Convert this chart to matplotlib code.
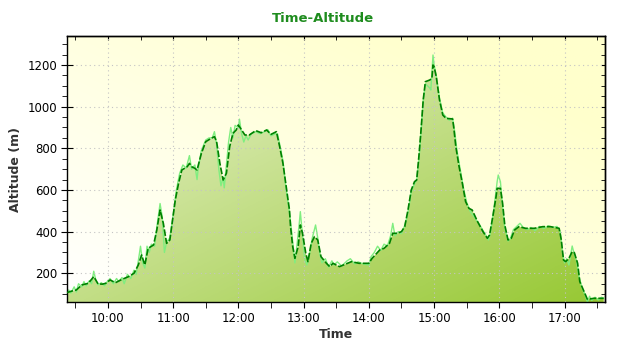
import numpy as np
import matplotlib
matplotlib.use("Agg")
import matplotlib.pyplot as plt
from matplotlib.ticker import MultipleLocator, FuncFormatter, NullFormatter
from matplotlib.colors import to_rgb

# ---- data ----
smooth_times = ["09:22","09:27","09:31","09:36","09:42","09:47","09:51","09:55","09:58","10:02",
    "10:07","10:13","10:19","10:24","10:28","10:31","10:34","10:37","10:42","10:45","10:48","10:51",
    "10:54","10:57","11:02","11:05","11:08","11:13","11:15","11:17","11:20","11:22","11:26","11:30",
    "11:35","11:38","11:40","11:43","11:46","11:49","11:52","11:55","11:58","12:00","12:03","12:06",
    "12:10","12:16","12:21","12:26","12:30","12:35","12:38","12:41","12:44","12:47","12:48","12:50",
    "12:52","12:55","12:57","12:59","13:02","13:04","13:07","13:10","13:13","13:16","13:21","13:24",
    "13:27","13:33","13:44","13:51","14:00","14:03","14:10","14:14","14:19","14:22","14:26","14:30",
    "14:33","14:36","14:39","14:42","14:44","14:46","14:48","14:50","14:52","14:56","14:58","14:59",
    "15:00","15:02","15:05","15:08","15:11","15:17","15:18","15:20","15:23","15:26","15:29","15:32",
    "15:35","15:40","15:45","15:49","15:51","15:54","15:57","15:58","16:01","16:03","16:05","16:08",
    "16:11","16:14","16:18","16:24","16:32","16:40","16:47","16:55","16:57","16:59","17:01","17:04",
    "17:07","17:09","17:12","17:14","17:18","17:21","17:27","17:36"]
smooth_alt = [107,115,120,144,152,184,149,148,152,168,
    155,171,184,200,240,288,240,320,336,408,504,440,
    344,360,552,632,696,712,728,712,704,696,776,832,
    848,856,832,728,648,680,808,872,888,912,888,864,
    864,885,875,888,867,880,808,728,616,504,424,328,
    272,328,432,392,296,256,344,376,360,280,248,232,
    248,232,256,248,248,272,312,320,344,392,392,400,
    424,504,600,640,648,760,888,1032,1120,1128,1136,1200,
    1192,1144,1032,960,944,941,904,808,712,632,544,512,
    504,448,400,368,384,472,568,608,608,536,432,360,
    368,408,424,416,416,424,424,416,360,264,256,272,
    304,299,248,160,112,75,80,80]

raw_times = ["09:22","09:24","09:26","09:29","09:31","09:33","09:36","09:38","09:40","09:43",
    "09:45","09:47","09:49","09:51","09:54","09:57","10:00","10:02","10:05","10:08","10:10","10:13",
    "10:15","10:18","10:21","10:24","10:26","10:28","10:30","10:32","10:34","10:36","10:38","10:40",
    "10:43","10:45","10:48","10:50","10:52","10:54","10:57","11:00","11:03","11:06","11:09","11:12",
    "11:15","11:17","11:20","11:22","11:23","11:26","11:30","11:33","11:36","11:38","11:40","11:42",
    "11:44","11:46","11:47","11:49","11:51","11:53","11:55","11:57","12:00","12:01","12:03","12:05",
    "12:07","12:09","12:12","12:16","12:20","12:24","12:27","12:30","12:34","12:36","12:38","12:41",
    "12:44","12:47","12:49","12:51","12:52","12:54","12:56","12:57","12:59","13:01","13:03","13:05",
    "13:08","13:11","13:13","13:15","13:17","13:20","13:23","13:26","13:28","13:31","13:35","13:40",
    "13:43","13:47","13:50","13:55","14:00","14:02","14:05","14:08","14:11","14:14","14:17","14:20",
    "14:22","14:24","14:27","14:30","14:33","14:36","14:39","14:42","14:44","14:46","14:48","14:50",
    "14:52","14:54","14:56","14:57","14:59","15:00","15:02","15:05","15:08","15:11","15:14","15:17",
    "15:19","15:21","15:24","15:27","15:30","15:33","15:37","15:41","15:45","15:49","15:50","15:52",
    "15:55","15:58","15:59","16:01","16:03","16:05","16:08","16:10","16:13","16:17","16:19","16:22",
    "16:26","16:29","16:33","16:37","16:41","16:45","16:49","16:53","16:56","16:58","17:00","17:02",
    "17:04","17:06","17:07","17:09","17:11","17:13","17:16","17:19","17:21","17:23","17:25","17:28",
    "17:31","17:34","17:36"]
raw_alt = [95,120,105,135,110,150,135,160,140,165,
    150,210,165,145,155,140,165,175,150,175,160,180,
    150,195,175,215,195,260,330,250,225,330,300,340,
    330,420,535,470,300,350,370,480,600,680,720,705,
    765,700,720,650,700,790,840,850,850,880,820,700,
    620,660,610,720,830,900,850,910,900,940,870,830,
    860,840,870,880,870,880,890,860,870,870,820,740,
    600,490,400,300,250,340,440,496,380,270,240,280,
    370,432,370,290,250,270,230,260,240,255,235,260,
    270,245,255,245,240,280,300,330,310,340,330,380,
    440,380,400,390,430,490,590,630,650,740,880,1030,
    1110,1100,1090,1080,1248,1200,1150,1040,970,950,935,945,
    880,790,700,610,540,500,470,440,405,370,360,400,
    510,640,672,640,520,420,355,365,410,430,440,420,
    410,420,405,425,415,428,420,425,400,300,250,270,
    240,300,331,290,260,190,130,95,62,90,70,85,
    72,85,80]

x_range = ["09:22", "17:37"]
y_range = [62, 1339]


def to_hours(s):
    h, m = s.split(":")
    return int(h) + int(m) / 60.0


xs = np.array([to_hours(t) for t in smooth_times])
ys = np.array(smooth_alt, dtype=float)
xr = np.array([to_hours(t) for t in raw_times])
yr = np.array(raw_alt, dtype=float)

fig = plt.figure(figsize=(6.4, 3.5), dpi=100)
ax = fig.add_axes([0.104, 0.137, 0.841, 0.760])
x0, x1 = to_hours(x_range[0]), to_hours(x_range[1])
ax.set_xlim(x0, x1)
ax.set_ylim(*y_range)

# background gradient (white bottom-left -> light yellow top-right)
n = 200
gx, gy = np.meshgrid(np.linspace(0, 1, n), np.linspace(1, 0, n))
t = np.clip((gx * 0.6 + gy * 0.6), 0, 1)
c0 = np.array(to_rgb("#ffffff"))
c1 = np.array(to_rgb("#ffffcc"))
bg = c0[None, None, :] * (1 - t[..., None]) + c1[None, None, :] * t[..., None]
ax.imshow(bg, extent=[0, 1, 0, 1], transform=ax.transAxes, aspect="auto", zorder=0)

# fill gradient (light top-left -> strong green bottom-right)
s = np.clip((gx + (1 - gy)) / 2, 0, 1)
f0 = np.array(to_rgb("#f0f5dc"))
f1 = np.array(to_rgb("#96c832"))
fg = f0[None, None, :] * (1 - s[..., None]) + f1[None, None, :] * s[..., None]
poly = ax.fill_between(xs, y_range[0], ys, facecolor="none", edgecolor="none", zorder=1)
im = ax.imshow(fg, extent=[0, 1, 0, 1], transform=ax.transAxes, aspect="auto", zorder=1)
im.set_clip_path(poly.get_paths()[0], transform=ax.transData)

ax.grid(True, which="major", color="#c4c4c4", linestyle=(0, (1, 3)), linewidth=0.8, zorder=1.5)
ax.set_axisbelow(False)

ax.plot(xr, yr, color="#80ee80", linewidth=1.0, zorder=2)
ax.plot(xs, ys, color="#008000", linewidth=1.2, linestyle=(0, (4, 1.2)), zorder=3)

ax.xaxis.set_major_locator(MultipleLocator(1.0))
ax.xaxis.set_minor_locator(MultipleLocator(0.5))
ax.yaxis.set_major_locator(MultipleLocator(200))
ax.yaxis.set_minor_locator(MultipleLocator(50))
ax.xaxis.set_major_formatter(FuncFormatter(lambda v, p: "%d:%02d" % (int(v), round((v % 1) * 60))))

# left: major in-out, minor outward; bottom: outward
ax.tick_params(axis="y", which="major", direction="inout", length=9, labelsize=8.5, pad=2)
ax.tick_params(axis="y", which="minor", direction="out", length=3.5)
ax.tick_params(axis="x", which="both", direction="out", length=4, labelsize=8.5, pad=3)

# right and top: short inward ticks
axr = ax.secondary_yaxis("right")
axr.yaxis.set_major_locator(MultipleLocator(200))
axr.yaxis.set_minor_locator(MultipleLocator(50))
axr.tick_params(axis="y", which="both", direction="in", length=3, labelright=False)
axr.yaxis.set_major_formatter(NullFormatter())
axt = ax.secondary_xaxis("top")
axt.xaxis.set_major_locator(MultipleLocator(1.0))
axt.xaxis.set_minor_locator(MultipleLocator(0.5))
axt.tick_params(axis="x", which="both", direction="in", length=3, labeltop=False)
axt.xaxis.set_major_formatter(NullFormatter())

for a in (ax, axr, axt):
    for sp in a.spines.values():
        sp.set_linewidth(1.0)
        sp.set_color("#000000")

ax.set_xlabel("Time", fontsize=9, fontweight="bold", color="#333333", labelpad=2)
ax.set_ylabel("Altitude (m)", fontsize=9, fontweight="bold", color="#333333", labelpad=4)
fig.text(0.505, 0.947, "Time-Altitude", ha="center", va="center", fontsize=9.5,
         fontweight="bold", color="#1e8c1e")

fig.savefig("out.png", dpi=100)
